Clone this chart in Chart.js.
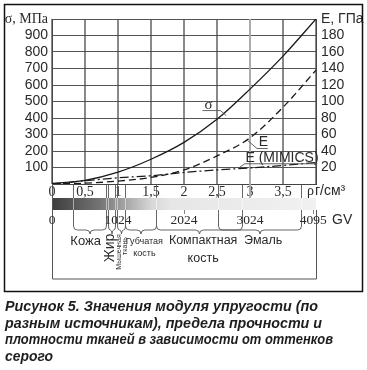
<!DOCTYPE html>
<html><head><meta charset="utf-8">
<script src="https://cdn.jsdelivr.net/npm/chart.js@4.4.0/dist/chart.umd.min.js"></script>
<style>
html,body{margin:0;padding:0;background:#fff;}
#wrap{position:relative;width:367px;height:370px;overflow:hidden;}
#c{position:absolute;left:0;top:0;}
#cap{position:absolute;left:5px;top:298px;font:italic bold 14.5px "Liberation Sans",Arial,sans-serif;line-height:16.5px;color:#1e1e1e;}
#cap div{white-space:nowrap;transform-origin:0 50%;display:table;}
</style></head><body>
<div id="wrap"><canvas id="c" width="367" height="370"></canvas>
<div id="cap"><div>Рисунок 5. Значения модуля упругости (по</div><div>разным источникам), предела прочности и</div><div>плотности тканей в зависимости от оттенков</div><div>серого</div></div></div>
<script>
// ---- data ----
const density  = [0, 0.5, 1, 1.5, 2, 2.5, 3, 3.5, 4];
const sigma    = [3, 22, 72, 150, 252, 392, 575, 775, 1000];   // МПа (left axis)
const eModulus = [0, 1, 3.5, 8, 17, 34, 56, 93, 138];          // ГПа (right axis)
const eMimics  = [0, 4, 7.5, 10, 14, 17, 19.5, 22.5, 26];      // ГПа (right axis)
const xTickLabels  = ['0','0,5','1','1,5','2','2,5','3','3,5',''];
const yTickLabels  = ['','100','200','300','400','500','600','700','800','900','σ, МПа'];
const y2TickLabels = ['','20','40','60','80','100','120','140','160','180','E, ГПа'];
const gvLabels  = ['0','1024','2024','3024','4095'];
const gvDensity = [0, 1, 2, 3, 3.96];
const tissueNames = ['Кожа','Жир','Мышечная ткань','Губчатая кость','Компактная кость','Эмаль'];
const tissueFrom  = [0.32, 0.85, 0.98, 1.10, 1.58, 2.52];
const tissueTo    = [0.82, 0.95, 1.10, 1.58, 2.88, 3.78];

const SANS = '"Liberation Sans", Arial, sans-serif';
const SERIF = '"Liberation Serif", "Times New Roman", serif';

// vertical grid lines, placed at the x scale's own ticks
const vgrid = {
  id: 'vgrid',
  beforeDatasetsDraw(chart) {
    const {ctx, chartArea: a, scales: {x}} = chart;
    ctx.save();
    ctx.setLineDash([]);
    x.ticks.forEach(t => {
      const X = x.getPixelForValue(t.value);
      const special = t.value === 3;
      ctx.strokeStyle = special ? '#a8a8a8' : '#4a4a4a';
      ctx.lineWidth = special ? 1.9 : 1.3;
      ctx.beginPath(); ctx.moveTo(X, a.top); ctx.lineTo(X, special ? a.bottom + 14 : a.bottom); ctx.stroke();
    });
    ctx.restore();
  }
};

const deco = {
  id: 'deco',
  afterDraw(chart) {
    const {ctx, chartArea: a, scales: {x, y, y2}} = chart;
    const B = a.bottom, L = a.left, R = a.right;
    const px = v => x.getPixelForValue(v);
    const al = v => Math.round(v) + 0.5;
    ctx.save();
    ctx.setLineDash([]);
    ctx.strokeStyle = '#111'; ctx.lineWidth = 1.5;
    ctx.strokeRect(4.5, 4.5, 358, 287);
    const g = ctx.createLinearGradient(L, 0, R, 0);
    g.addColorStop(0, '#3e3e3e'); g.addColorStop(0.18, '#747474'); g.addColorStop(0.38, '#d8d8d8');
    g.addColorStop(0.45, '#e6e6e6'); g.addColorStop(1, '#f1f1f1');
    ctx.fillStyle = g; ctx.fillRect(L, B + 14, R - L, 12);
    ctx.strokeStyle = '#555'; ctx.lineWidth = 1;
    ctx.beginPath();
    ctx.moveTo(al(L), B); ctx.lineTo(al(L), B + 95);
    ctx.lineTo(al(R), B + 95); ctx.lineTo(al(R), B + 26);
    ctx.stroke();
    const conn = [];
    tissueFrom.forEach(v => conn.push(v)); tissueTo.forEach(v => conn.push(v));
    ctx.lineWidth = 0.9;
    [...new Set(conn)].forEach(d => {
      const X = al(px(d));
      ctx.strokeStyle = '#555';
      ctx.beginPath(); ctx.moveTo(X, B + 1); ctx.lineTo(X, B + 14);
      ctx.moveTo(X, B + 26); ctx.lineTo(X, B + 42); ctx.stroke();
      ctx.strokeStyle = 'rgba(255,255,255,0.55)';
      ctx.beginPath(); ctx.moveTo(X, B + 14); ctx.lineTo(X, B + 26); ctx.stroke();
    });
    ctx.strokeStyle = '#555'; ctx.lineWidth = 0.9;
    const brace = (x1, x2, yT, h) => {
      const m = (x1 + x2) / 2, yM = yT + h / 2, yB = yT + h;
      const r = Math.min(4, (x2 - x1) / 4);
      ctx.beginPath();
      ctx.moveTo(x1, yT);
      ctx.quadraticCurveTo(x1, yM, x1 + r, yM);
      ctx.lineTo(m - r, yM);
      ctx.quadraticCurveTo(m, yM, m, yB);
      ctx.quadraticCurveTo(m, yM, m + r, yM);
      ctx.lineTo(x2 - r, yM);
      ctx.quadraticCurveTo(x2, yM, x2, yT);
      ctx.stroke();
    };
    tissueFrom.forEach((f, i) => brace(al(px(f)), al(px(tissueTo[i])), B + 42, 8));
    ctx.fillStyle = '#2a2a2a'; ctx.textBaseline = 'middle'; ctx.textAlign = 'center';
    ctx.font = '13.5px ' + SERIF;
    gvLabels.forEach((t, i) => ctx.fillText(t, px(gvDensity[i]), B + 36));
    ctx.strokeStyle = '#666'; ctx.lineWidth = 0.8;
    [2, 3.96].forEach(d => { ctx.beginPath(); ctx.moveTo(al(px(d)), B + 26); ctx.lineTo(al(px(d)), B + 30); ctx.stroke(); });
    ctx.textAlign = 'left'; ctx.font = '14px ' + SANS;
    ctx.fillText('GV', R + 16, B + 36);
    ctx.font = '14px ' + SERIF; ctx.fillText('ρ', R - 9, B + 7);
    ctx.font = '14px ' + SANS; ctx.fillText('г/см³', R - 1, B + 7);
    ctx.textAlign = 'center';
    ctx.font = '13px ' + SANS;
    ctx.fillText('Кожа', px(0.51), B + 57);
    ctx.font = '12.5px ' + SANS;
    ctx.fillText('Компактная', px(2.29), B + 57);
    ctx.fillText('кость', px(2.29), B + 75);
    ctx.fillText('Эмаль', px(3.2), B + 57);
    ctx.font = '9px ' + SANS;
    ctx.fillText('Губчатая', px(1.40), B + 58);
    ctx.fillText('кость', px(1.40), B + 70);
    const rot = (t, xx, yy, f) => {
      ctx.save(); ctx.translate(xx, yy); ctx.rotate(-Math.PI / 2);
      ctx.font = f; ctx.textAlign = 'center'; ctx.fillText(t, 0, 0); ctx.restore();
    };
    rot('Жир', px(0.886), B + 64, '14px ' + SANS);
    rot('Мышечная', px(1.02), B + 68, '7px ' + SANS);
    rot('ткань', px(1.10), B + 62, '7px ' + SANS);
    const Y = v => y.getPixelForValue(v), Y2 = v => y2.getPixelForValue(v);
    ctx.strokeStyle = '#555'; ctx.lineWidth = 0.9;
    ctx.font = '15px ' + SERIF; ctx.fillText('σ', px(2.37), Y(476));
    ctx.beginPath(); ctx.moveTo(px(2.28), Y(445)); ctx.lineTo(px(2.55), Y(445)); ctx.lineTo(px(2.64), Y(415)); ctx.stroke();
    ctx.font = '14px ' + SANS; ctx.fillText('E', px(3.205), Y2(50.3));
    ctx.beginPath(); ctx.moveTo(px(3.27), Y2(43)); ctx.lineTo(px(3.106), Y2(43)); ctx.lineTo(px(2.96), Y2(53)); ctx.stroke();
    ctx.font = '14px ' + SANS; ctx.fillText('E (MIMICS)', px(3.485), Y2(31.5));
    ctx.beginPath(); ctx.moveTo(px(4.02), Y2(24.5)); ctx.lineTo(px(2.92), Y2(24.5)); ctx.lineTo(px(2.82), Y2(19)); ctx.stroke();
    ctx.restore();
  }
};

const pts = arr => density.map((d, i) => ({x: d, y: arr[i]}));
const lineStyle = {borderColor: '#1a1a1a', borderWidth: 1.3, pointRadius: 0, cubicInterpolationMode: 'monotone', fill: false};

new Chart(document.getElementById('c'), {
  type: 'line',
  data: {
    datasets: [
      Object.assign({label: 'σ', data: pts(sigma), yAxisID: 'y'}, lineStyle),
      Object.assign({label: 'E', data: pts(eModulus), yAxisID: 'y2', borderDash: [7, 4]}, lineStyle),
      Object.assign({label: 'E (MIMICS)', data: pts(eMimics), yAxisID: 'y2', borderDash: [9, 3, 2, 3]}, lineStyle)
    ]
  },
  options: {
    responsive: false, animation: false,
    layout: {padding: {top: 19, left: 0, right: 0, bottom: 0}},
    plugins: {legend: {display: false}, tooltip: {enabled: false}},
    scales: {
      x: {
        type: 'linear', min: 0, max: 4,
        ticks: {stepSize: 0.5, autoSkip: false, maxRotation: 0, padding: 0, color: '#2a2a2a',
          font: {family: SERIF, size: 14},
          callback: (v, i) => xTickLabels[i]},
        grid: {display: false, drawTicks: false},
        border: {color: '#444'},
        afterFit: s => { s.height = 186; }
      },
      y: {
        position: 'left', min: 0, max: 1000,
        ticks: {stepSize: 100, autoSkip: false, padding: 4, color: '#2a2a2a',
          font: c => (c.tick && c.tick.value === 1000) ? {family: SERIF, size: 14} : {family: SANS, size: 14},
          callback: (v, i) => yTickLabels[i]},
        grid: {drawTicks: false, color: '#555'},
        border: {color: '#444'},
        afterFit: s => { s.width = 52; }
      },
      y2: {
        position: 'right', min: 0, max: 200,
        ticks: {stepSize: 20, autoSkip: false, padding: 5, color: '#2a2a2a', font: {family: SANS, size: 14},
          callback: (v, i) => y2TickLabels[i]},
        grid: {display: false, drawTicks: false},
        border: {color: '#444'},
        afterFit: s => { s.width = 51; }
      }
    }
  },
  plugins: [vgrid, deco]
});

const capRight = [318, 322, 333, 53];
document.querySelectorAll('#cap div').forEach((d, i) => {
  const w = d.getBoundingClientRect().width;
  d.style.transform = 'scaleX(' + ((capRight[i] - 5) / w).toFixed(3) + ')';
});
</script>
</body></html>
